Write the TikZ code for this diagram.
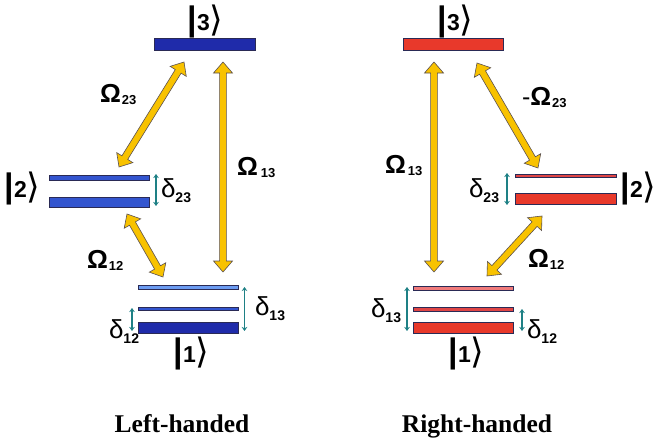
\documentclass[tikz,border=0pt]{standalone}
\usepackage{fontspec}
\setmainfont{Liberation Sans}
\newfontfamily\capfont{Liberation Serif}
\newfontfamily\djv{DejaVu Sans}
\usetikzlibrary{arrows.meta,calc}
\definecolor{yel}{HTML}{F8C200}
\definecolor{yelline}{HTML}{5A5050}
\definecolor{barline}{HTML}{2A2A55}
\definecolor{bdark}{HTML}{1F2BAA}
\definecolor{bmid}{HTML}{3355CF}
\definecolor{blight}{HTML}{6C9CF2}
\definecolor{rmain}{HTML}{E8392B}
\definecolor{rlight}{HTML}{F07B7B}
\definecolor{rmid}{HTML}{E04545}
\definecolor{dteal}{HTML}{1E8085}
\newcommand\ketlab[1]{{\fontsize{34}{34}\selectfont\bfseries |}\kern0.5pt{\fontsize{23}{23}\selectfont\bfseries #1}\kern-0.5pt\raisebox{-1pt}{\djv\fontsize{35}{35}\selectfont ⟩}}
\newcommand\Omlab[2][1pt]{{\fontsize{26}{26}\selectfont\bfseries Ω}\kern#1\raisebox{-2pt}{\fontsize{13}{13}\selectfont\bfseries #2}}
\newcommand\dlab[1]{{\fontsize{26}{26}\selectfont δ}\raisebox{-5pt}{\fontsize{14}{14}\selectfont\bfseries #1}}
\def\yH{11}\def\yW{9.5}\def\yS{3.4}
\newcommand\yarr[2]{%
  \path let \p1=(#1), \p2=(#2) in \pgfextra{%
    \pgfmathsetmacro\yang{atan2(\y2-\y1,\x2-\x1)}%
    \pgfmathsetmacro\ylen{veclen(\x2-\x1,\y2-\y1)}%
    \pgfmathsetmacro\yxx{\x1}\pgfmathsetmacro\yyy{\y1}%
    \xdef\yA{\yang}\xdef\yL{\ylen}\xdef\yX{\yxx}\xdef\yY{\yyy}};
  \draw[bigarrow, shift={(\yX pt,\yY pt)}, rotate=\yA]
    (0,0) -- (\yH,\yW) -- (\yH,\yS) -- (\yL-\yH,\yS) -- (\yL-\yH,\yW) -- (\yL,0)
    -- (\yL-\yH,-\yW) -- (\yL-\yH,-\yS) -- (\yH,-\yS) -- (\yH,-\yW) -- cycle;
}
\tikzset{
  bar/.style={draw=barline, line width=0.6pt, rectangle, inner sep=0pt, outer sep=0pt},
  bigarrow/.style={fill=yel, draw=yelline, line width=0.6pt, line join=miter},
  darr/.style={draw=dteal, line width=1.4pt, {Stealth[length=4pt,width=5.5pt]}-{Stealth[length=4pt,width=5.5pt]}},
  lab/.style={inner sep=0pt, outer sep=0pt, anchor=base west},
  ket/.style={inner sep=0pt, outer sep=0pt, anchor=base},
  captext/.style={inner sep=0pt, anchor=base, font=\capfont\bfseries\fontsize{25.5}{30}\selectfont},
}
\begin{document}
\begin{tikzpicture}[x=1pt,y=-1pt]
\useasboundingbox (0,0) rectangle (657,442);
% ---------------- Left-handed ----------------
\node[bar, fill=bdark, minimum width=101pt, minimum height=12pt] (L3) at (204.5,44) {};
\node[bar, fill=bmid, minimum width=100pt, minimum height=4.5pt] (L2a) at (99,178) {};
\node[bar, fill=bmid, minimum width=100pt, minimum height=10pt] (L2b) at (99,202) {};
\node[bar, fill=blight, minimum width=100pt, minimum height=3.5pt] (L1a) at (188,287.5) {};
\node[bar, fill=bmid, minimum width=100pt, minimum height=3.5pt] (L1b) at (188,308.8) {};
\node[bar, fill=bdark, minimum width=100pt, minimum height=11pt] (L1c) at (188,327.5) {};

\node[ket] (kL3) at (205,30) {\ketlab{3}};
\node[ket] (kL2) at (22,197) {\ketlab{2}};
\node[ket] (kL1) at (191,362) {\ketlab{1}};

\coordinate (aL23t) at (184,62);  \coordinate (aL23b) at (119,167);
\coordinate (aL13t) at (223,62);  \coordinate (aL13b) at (223,272);
\coordinate (aL12t) at (127,214); \coordinate (aL12b) at (163,277);
\yarr{aL23t}{aL23b}
\yarr{aL13t}{aL13b}
\yarr{aL12t}{aL12b}

\node[lab] (oL23) at (100,102) {\Omlab{23}};
\node[lab] (oL13) at (237,175) {\Omlab[3pt]{13}};
\node[lab] (oL12) at (87,268) {\Omlab{12}};

\coordinate (dL23t) at (156,174); \coordinate (dL23b) at (156,206);
\coordinate (dL13t) at (244.5,287); \coordinate (dL13b) at (244.5,331);
\coordinate (dL12t) at (132,308); \coordinate (dL12b) at (132,331);
\draw[darr] (dL23t) -- (dL23b);
\draw[darr] (dL13t) -- (dL13b);
\draw[darr] (dL12t) -- (dL12b);

\node[lab] (tL23) at (161,197) {\dlab{23}};
\node[lab] (tL13) at (255,315) {\dlab{13}};
\node[lab] (tL12) at (109,338) {\dlab{12}};

\node[captext] (capL) at (182,432) {Left-handed};

% ---------------- Right-handed ----------------
\node[bar, fill=rmain, minimum width=100pt, minimum height=12pt] (R3) at (453,44) {};
\node[bar, fill=rmid, minimum width=101pt, minimum height=3.5pt] (R2a) at (565.5,175.7) {};
\node[bar, fill=rmain, minimum width=101pt, minimum height=11pt] (R2b) at (565.5,198.5) {};
\node[bar, fill=rlight, minimum width=100pt, minimum height=3.5pt] (R1a) at (463,288.5) {};
\node[bar, fill=rmid, minimum width=100pt, minimum height=3.5pt] (R1b) at (463,309.5) {};
\node[bar, fill=rmain, minimum width=100pt, minimum height=11pt] (R1c) at (463,327.5) {};

\node[ket] (kR3) at (455,30) {\ketlab{3}};
\node[ket] (kR2) at (638,197) {\ketlab{2}};
\node[ket] (kR1) at (466,362) {\ketlab{1}};

\coordinate (aR13t) at (434,62);  \coordinate (aR13b) at (434,272);
\coordinate (aR23t) at (477,63);  \coordinate (aR23b) at (538,168);
\coordinate (aR12t) at (542,216); \coordinate (aR12b) at (487,276);
\yarr{aR13t}{aR13b}
\yarr{aR23t}{aR23b}
\yarr{aR12t}{aR12b}

\node[lab] (oR13) at (385,173) {\Omlab[2pt]{13}};
\node[lab] (oR23) at (522,105) {{\fontsize{25}{25}\selectfont -}\Omlab{23}};
\node[lab] (oR12) at (528,267) {\Omlab{12}};

\coordinate (dR23t) at (507,173); \coordinate (dR23b) at (507,205);
\coordinate (dR13t) at (407,287); \coordinate (dR13b) at (407,331);
\coordinate (dR12t) at (522,309); \coordinate (dR12b) at (522,331);
\draw[darr] (dR23t) -- (dR23b);
\draw[darr] (dR13t) -- (dR13b);
\draw[darr] (dR12t) -- (dR12b);

\node[lab] (tR23) at (469,197) {\dlab{23}};
\node[lab] (tR13) at (371,317) {\dlab{13}};
\node[lab] (tR12) at (527,338) {\dlab{12}};

\node[captext] (capR) at (477,432) {Right-handed};
\end{tikzpicture}
\end{document}
